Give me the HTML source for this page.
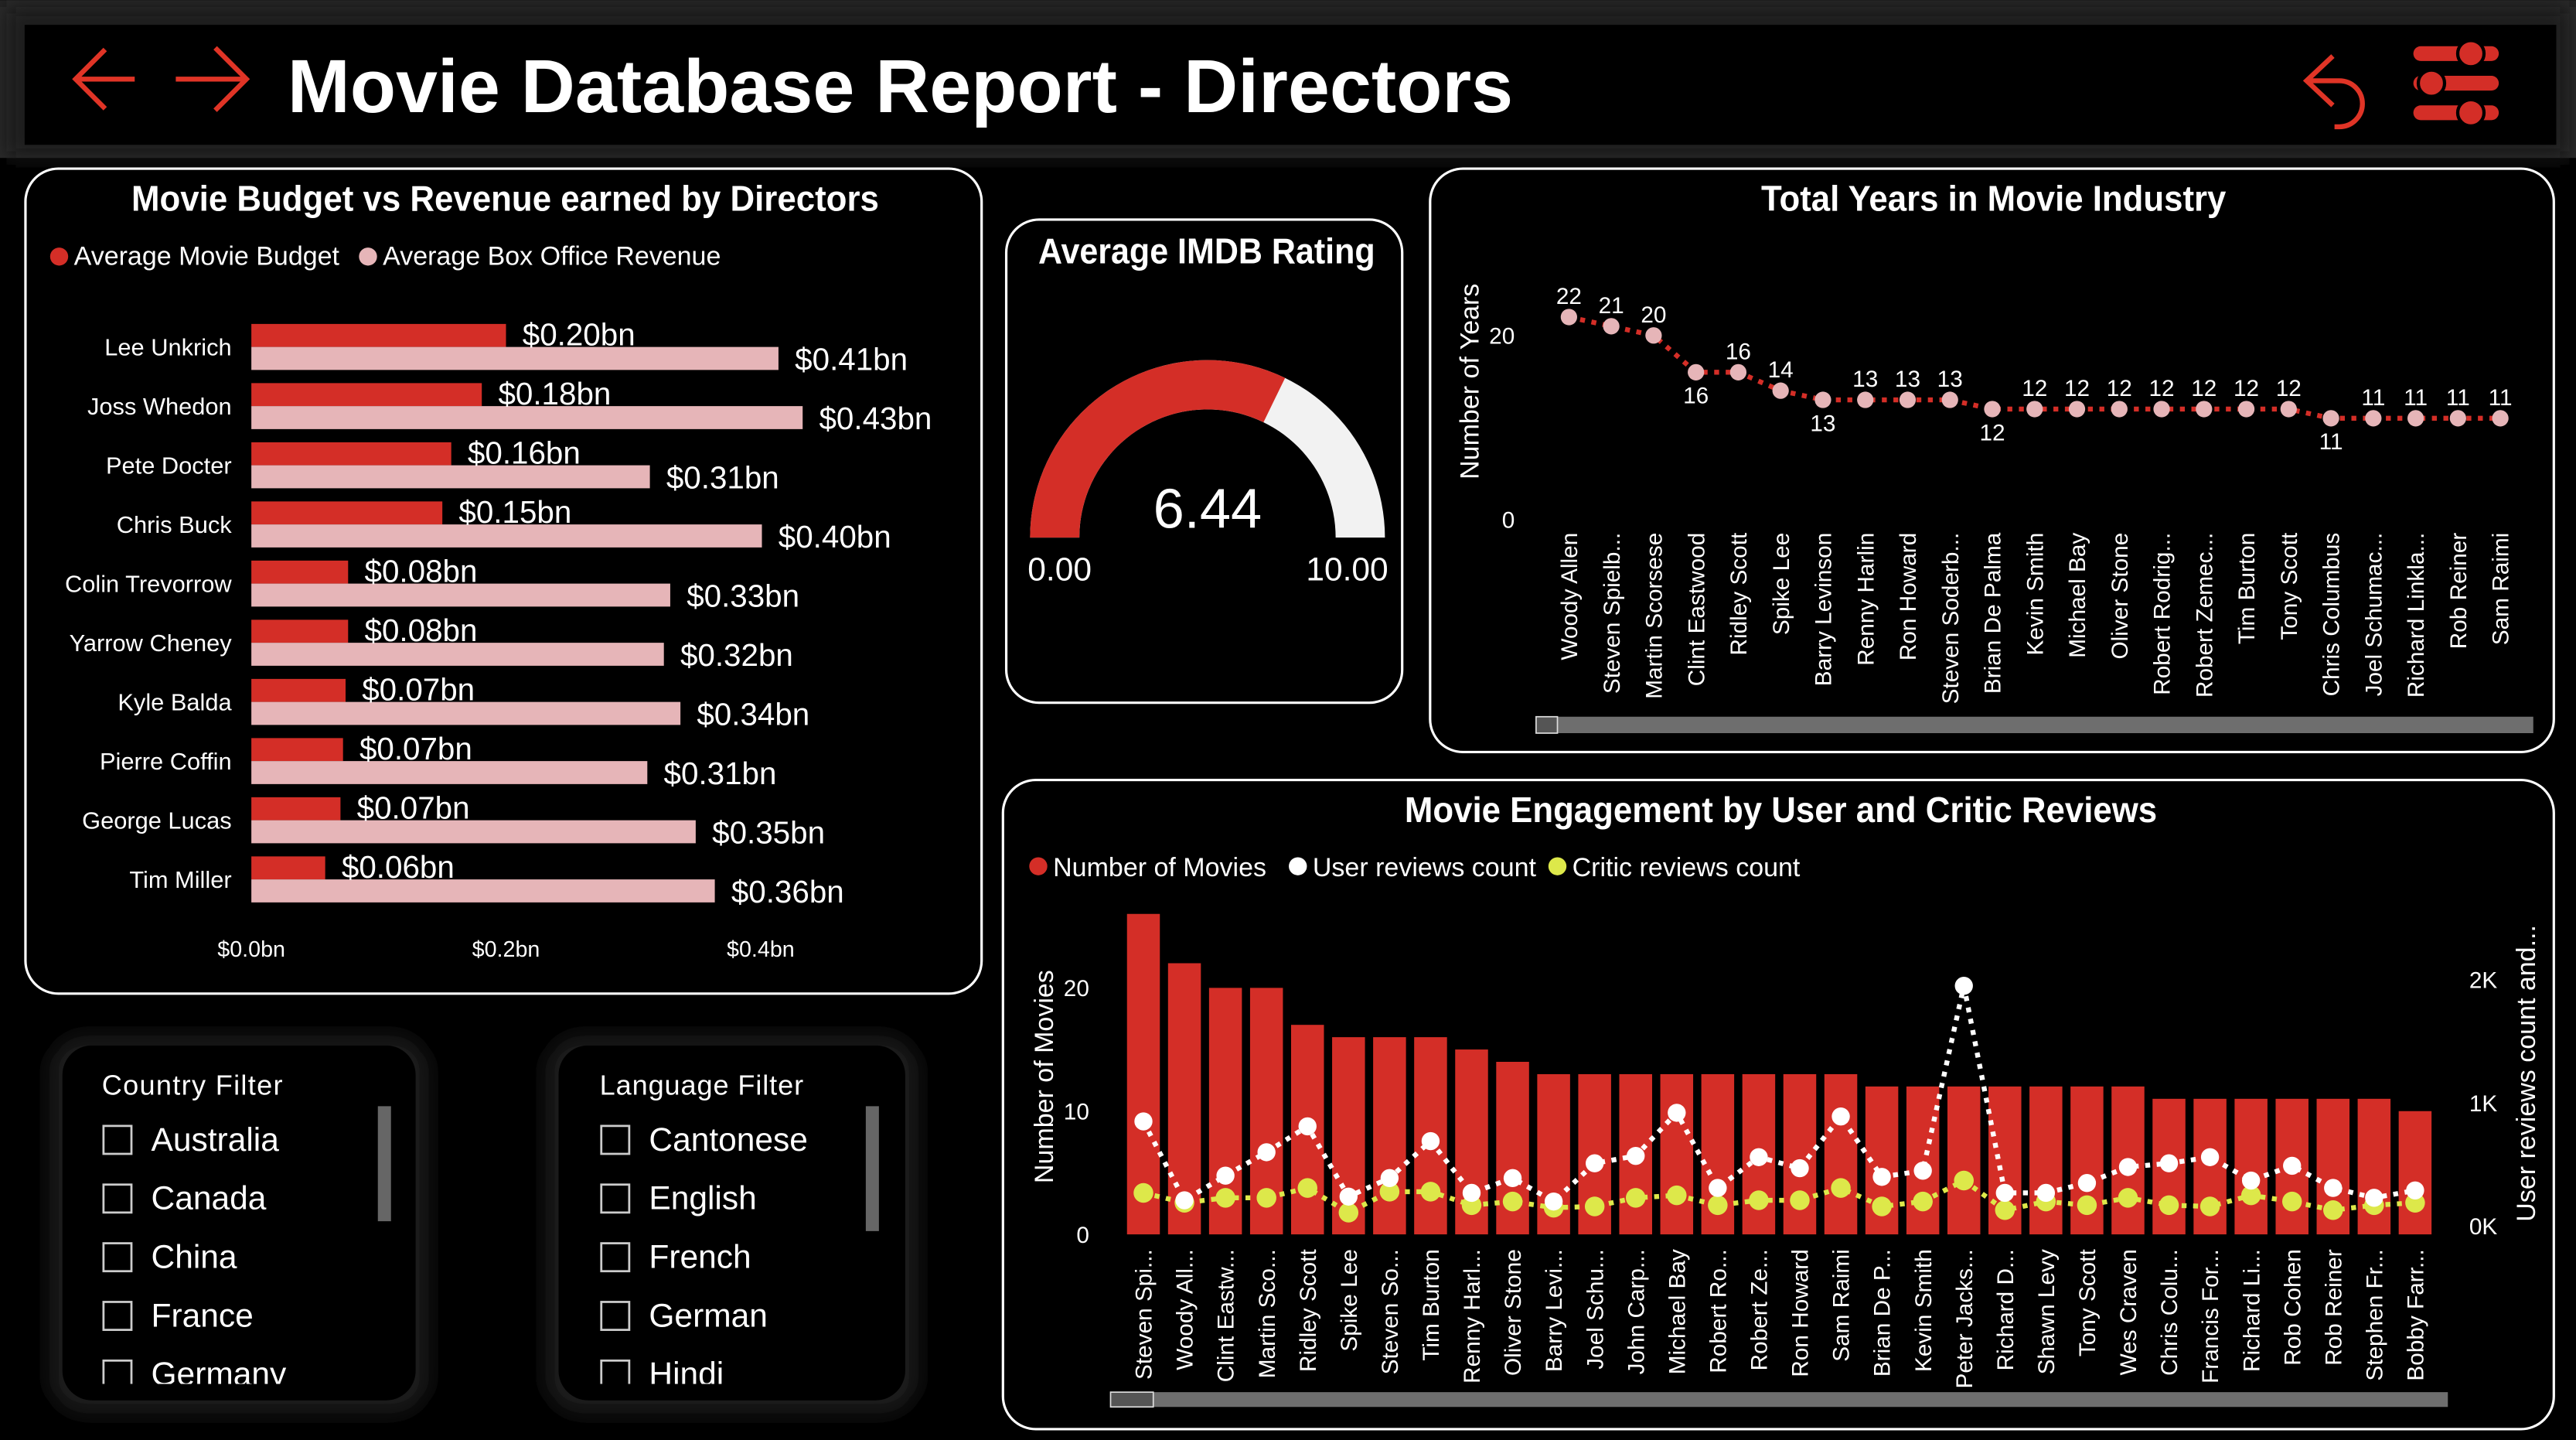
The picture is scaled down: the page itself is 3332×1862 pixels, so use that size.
<!DOCTYPE html>
<html><head><meta charset="utf-8"><style>
html,body{margin:0;padding:0;background:#000;}
svg{display:block;}
text{font-family:"Liberation Sans Narrow","Liberation Sans",sans-serif;}
</style></head><body>
<svg id="root" width="3332" height="1862" viewBox="0 0 1568 876" xmlns="http://www.w3.org/2000/svg">
<defs>
<filter id="glow" x="-10%" y="-50%" width="120%" height="200%"><feGaussianBlur stdDeviation="6"/></filter>
<clipPath id="cfClip"><rect x="40" y="640" width="210" height="202"/></clipPath>
<clipPath id="lfClip"><rect x="342" y="640" width="206" height="202"/></clipPath>
</defs>
<rect x="0" y="0" width="1568" height="876" fill="#000"/>
<rect x="0" y="0" width="1568" height="96" fill="#262626"/>
<rect x="4" y="4" width="1560" height="92" fill="#1a1a1a" filter="url(#glow)"/>
<g>
<rect x="15" y="15" width="1541" height="73" fill="#000"/>
<g stroke="#e03426" stroke-width="3" fill="none"><path d="M82 48 H46 M64 30 L46 48 L64 66"/></g>
<g stroke="#e03426" stroke-width="3" fill="none"><path d="M107 48 H150 M131 29 L150 48 L131 67"/></g>
<text x="175" y="68" font-size="46" font-weight="bold" fill="#fff" textLength="746" lengthAdjust="spacingAndGlyphs" style="font-family:'Liberation Sans',sans-serif">Movie Database Report - Directors</text>
<g stroke="#e03426" stroke-width="3" fill="none"><path d="M1420 34 L1404 49 L1420 64 M1404 49 H1424 A14 14 0 0 1 1424 77 H1421"/></g>
<g fill="#d42e27">
<rect x="1469" y="28" width="52" height="9" rx="4.5"/><circle cx="1504" cy="32.5" r="8" stroke="#000" stroke-width="2"/>
<rect x="1469" y="46" width="52" height="9" rx="4.5"/><circle cx="1480" cy="50.5" r="8" stroke="#000" stroke-width="2"/>
<rect x="1469" y="64" width="52" height="9" rx="4.5"/><circle cx="1504" cy="68.5" r="8" stroke="#000" stroke-width="2"/>
</g>
</g>

<g>
<rect x="15.5" y="102.5" width="582" height="502" rx="20" fill="#000" stroke="#fff" stroke-width="1.5"/>
<text x="80" y="128" font-size="22" font-weight="bold" fill="#fff" textLength="455" lengthAdjust="spacingAndGlyphs">Movie Budget vs Revenue earned by Directors</text>
<g>
<circle cx="36" cy="156" r="5.5" fill="#d42e27"/><text x="45" y="161" font-size="16" fill="#fff">Average Movie Budget</text>
<circle cx="224" cy="156" r="5.5" fill="#e6b5b8"/><text x="233" y="161" font-size="16" fill="#fff">Average Box Office Revenue</text>
</g>
<g id="budgetChart"></g>
</g>

<g>
<rect x="612.5" y="133.5" width="241" height="294" rx="20" fill="#000" stroke="#fff" stroke-width="1.5"/>
<text x="632" y="160" font-size="22" font-weight="bold" fill="#fff" textLength="205" lengthAdjust="spacingAndGlyphs">Average IMDB Rating</text>
<g id="gauge"></g>
</g>

<g>
<rect x="870.5" y="102.5" width="684" height="355" rx="20" fill="#000" stroke="#fff" stroke-width="1.5"/>
<text x="1072" y="128" font-size="22" font-weight="bold" fill="#fff" textLength="283" lengthAdjust="spacingAndGlyphs">Total Years in Movie Industry</text>
<g id="yearsChart"></g>
<rect x="935" y="436" width="607" height="10" fill="#6e6e6e"/>
<rect x="935" y="436" width="13" height="10" fill="#555" stroke="#ddd" stroke-width="0.8"/>
</g>

<g>
<rect x="610.5" y="474.5" width="944" height="395" rx="20" fill="#000" stroke="#fff" stroke-width="1.5"/>
<text x="855" y="500" font-size="22" font-weight="bold" fill="#fff" textLength="458" lengthAdjust="spacingAndGlyphs">Movie Engagement by User and Critic Reviews</text>
<g>
<circle cx="632" cy="527" r="5.5" fill="#d42e27"/><text x="641" y="533" font-size="16" fill="#fff">Number of Movies</text>
<circle cx="790" cy="527" r="5.5" fill="#fff"/><text x="799" y="533" font-size="16" fill="#fff">User reviews count</text>
<circle cx="948" cy="527" r="5.5" fill="#dde84a"/><text x="957" y="533" font-size="16" fill="#fff">Critic reviews count</text>
</g>
<g id="engChart"></g>
<rect x="676" y="847" width="814" height="9" fill="#6e6e6e"/>
<rect x="676" y="847" width="26" height="9" fill="#555" stroke="#ddd" stroke-width="0.8"/>
</g>

<g>
<rect x="30" y="630" width="231" height="230" rx="22" fill="#1c1c1c" filter="url(#glow)"/>
<rect x="38" y="636" width="215" height="216" rx="18" fill="#000"/>
<text x="62" y="666" font-size="17" fill="#fff" style="font-family:'Liberation Sans',sans-serif" textLength="110">Country Filter</text>
<rect x="230" y="673" width="8" height="70" fill="#666"/>
<g clip-path="url(#cfClip)" id="countryList"></g>
</g>
<g>
<rect x="332" y="630" width="227" height="230" rx="22" fill="#1c1c1c" filter="url(#glow)"/>
<rect x="340" y="636" width="211" height="216" rx="18" fill="#000"/>
<text x="365" y="666" font-size="17" fill="#fff" style="font-family:'Liberation Sans',sans-serif" textLength="124">Language Filter</text>
<rect x="527" y="673" width="8" height="76" fill="#666"/>
<g clip-path="url(#lfClip)" id="languageList"></g>
</g>
</svg>
<script>
const budgetDirectors = ["Lee Unkrich","Joss Whedon","Pete Docter","Chris Buck","Colin Trevorrow","Yarrow Cheney","Kyle Balda","Pierre Coffin","George Lucas","Tim Miller"];
const budgetValues = [0.20,0.181,0.157,0.150,0.076,0.076,0.074,0.072,0.070,0.058];
const revenueValues = [0.414,0.433,0.313,0.401,0.329,0.324,0.337,0.311,0.349,0.364];
const budgetTicks = [0,0.2,0.4];
const budgetTickLabels = ["$0.0bn","$0.2bn","$0.4bn"];
const imdbRating = 6.44;
const imdbMin = 0, imdbMax = 10;
const yearDirectors = ["Woody Allen","Steven Spielb...","Martin Scorsese","Clint Eastwood","Ridley Scott","Spike Lee","Barry Levinson","Renny Harlin","Ron Howard","Steven Soderb...","Brian De Palma","Kevin Smith","Michael Bay","Oliver Stone","Robert Rodrig...","Robert Zemec...","Tim Burton","Tony Scott","Chris Columbus","Joel Schumac...","Richard Linkla...","Rob Reiner","Sam Raimi"];
const yearValues = [22,21,20,16,16,14,13,13,13,13,12,12,12,12,12,12,12,12,11,11,11,11,11];
const yearTicks = [0,20];
const engDirectors = ["Steven Spi...","Woody All...","Clint Eastw...","Martin Sco...","Ridley Scott","Spike Lee","Steven So...","Tim Burton","Renny Harl...","Oliver Stone","Barry Levi...","Joel Schu...","John Carp...","Michael Bay","Robert Ro...","Robert Ze...","Ron Howard","Sam Raimi","Brian De P...","Kevin Smith","Peter Jacks...","Richard D...","Shawn Levy","Tony Scott","Wes Craven","Chris Colu...","Francis For...","Richard Li...","Rob Cohen","Rob Reiner","Stephen Fr...","Bobby Farr..."];
const movieCounts = [26,22,20,20,17,16,16,16,15,14,13,13,13,13,13,13,13,13,12,12,12,12,12,12,12,11,11,11,11,11,11,10];
const userReviewsK = [0.85,0.21,0.41,0.60,0.81,0.24,0.39,0.69,0.27,0.39,0.20,0.51,0.57,0.92,0.31,0.56,0.47,0.89,0.40,0.45,1.95,0.27,0.27,0.35,0.48,0.51,0.56,0.37,0.49,0.31,0.23,0.29];
const criticReviewsK = [0.27,0.19,0.23,0.23,0.31,0.11,0.28,0.28,0.17,0.20,0.15,0.16,0.23,0.25,0.17,0.21,0.21,0.31,0.16,0.20,0.37,0.13,0.20,0.17,0.23,0.17,0.16,0.25,0.20,0.13,0.17,0.19];
const leftTicks = [0,10,20];
const rightTicks = [0,1,2];
const rightTickLabels = ["0K","1K","2K"];
const countries = ["Australia","Canada","China","France","Germany"];
const languages = ["Cantonese","English","French","German","Hindi"];

const NS = "http://www.w3.org/2000/svg";
function mk(parent, tag, attrs, txt){
  const e = document.createElementNS(NS, tag);
  for (const k in attrs) e.setAttribute(k, attrs[k]);
  if (txt !== undefined) e.textContent = txt;
  parent.appendChild(e); return e;
}
const RED="#d42e27", PINK="#e6b5b8", LIME="#dde84a";

(function(){
  const g = document.getElementById('budgetChart');
  const x = v => 153 + v*775;
  const rowY = i => 211 + i*36;
  budgetDirectors.forEach((d,i)=>{
    const y = rowY(i);
    const lab = mk(g,'text',{x:141,y:y+5,'font-size':14.5,fill:'#fff','text-anchor':'end'},d);
    
    
    const rb = mk(g,'rect',{x:x(0),y:y-14,width:x(budgetValues[i])-x(0),height:14,fill:RED});
    
    
    const pb = mk(g,'rect',{x:x(0),y:y,width:x(revenueValues[i])-x(0),height:14,fill:PINK});
    
    
    const t1 = mk(g,'text',{x:x(budgetValues[i])+10,y:y-1,'font-size':19,fill:'#fff'},'$'+budgetValues[i].toFixed(2)+'bn');
    
    
    const t2 = mk(g,'text',{x:x(revenueValues[i])+10,y:y+14,'font-size':19,fill:'#fff'},'$'+revenueValues[i].toFixed(2)+'bn');
    
    
  });
  budgetTicks.forEach((t,i)=>{
    const tl = mk(g,'text',{x:x(t),y:582,'font-size':13.5,fill:'#fff','text-anchor':'middle'},budgetTickLabels[i]);
    
    
  });
})();

(function(){
  const g = document.getElementById('gauge');
  const cx=735, cy=327, R=108, r=78;
  const ang = v => Math.PI*(1-(v-imdbMin)/(imdbMax-imdbMin));
  function arc(a0,a1){
    const p=(rad,a)=>[cx+rad*Math.cos(a), cy-rad*Math.sin(a)];
    const [x0,y0]=p(R,a0),[x1,y1]=p(R,a1),[x2,y2]=p(r,a1),[x3,y3]=p(r,a0);
    return `M${x0} ${y0} A${R} ${R} 0 0 1 ${x1} ${y1} L${x2} ${y2} A${r} ${r} 0 0 0 ${x3} ${y3} Z`;
  }
  const bg = mk(g,'path',{d:arc(ang(imdbMin),ang(imdbMax)),fill:'#f2f2f2'});
  
  
  const fg = mk(g,'path',{d:arc(ang(imdbMin),ang(imdbRating)),fill:RED});
  
  
  const v = mk(g,'text',{x:cx,y:321,'font-size':34,fill:'#fff','text-anchor':'middle'},imdbRating.toFixed(2));
  
  
  const mn = mk(g,'text',{x:645,y:353,'font-size':20,fill:'#fff','text-anchor':'middle'},imdbMin.toFixed(2));
  
  
  const mx = mk(g,'text',{x:820,y:353,'font-size':20,fill:'#fff','text-anchor':'middle'},imdbMax.toFixed(2));
  
  
})();

(function(){
  const g = document.getElementById('yearsChart');
  const x = i => 955 + i*25.77;
  const y = v => 316 - v*5.6;
  const at = mk(g,'text',{transform:'translate(900,232) rotate(-90)','font-size':16,fill:'#fff','text-anchor':'middle',style:"font-family:'Liberation Sans',sans-serif"},'Number of Years');
  
  
  yearTicks.forEach(t=>{
    const tl = mk(g,'text',{x:922,y:y(t)+5,'font-size':14,fill:'#fff','text-anchor':'end'},t);
    
    
  });
  const pts = yearValues.map((v,i)=>x(i)+','+y(v)).join(' ');
  const ln = mk(g,'polyline',{points:pts,fill:'none',stroke:RED,'stroke-width':3,'stroke-dasharray':'3 4'});
  
  
  yearValues.forEach((v,i)=>{
    const c = mk(g,'circle',{cx:x(i),cy:y(v),r:5,fill:PINK});
    
    
    const prev = i>0?yearValues[i-1]:null, next = i<yearValues.length-1?yearValues[i+1]:null;
    const below = prev!==null && prev!==v && next===v;
    const l = mk(g,'text',{x:x(i),y:below?y(v)+19:y(v)-8,'font-size':14,fill:'#fff','text-anchor':'middle'},v);
    
    
    const xl = mk(g,'text',{transform:`translate(${x(i)+5},324) rotate(-90)`,'font-size':14,fill:'#fff','text-anchor':'end',style:"font-family:'Liberation Sans',sans-serif"},yearDirectors[i]);
    
    
  });
})();

(function(){
  const g = document.getElementById('engChart');
  const x = i => 696 + i*24.97;
  const yl = v => 751 - v*7.5;
  const yr = v => 746 - v*75;
  const t1 = mk(g,'text',{transform:'translate(641,655) rotate(-90)','font-size':16,fill:'#fff','text-anchor':'middle',style:"font-family:'Liberation Sans',sans-serif"},'Number of Movies');
  
  
  const t2 = mk(g,'text',{transform:'translate(1543,653) rotate(-90)','font-size':16,fill:'#fff','text-anchor':'middle',style:"font-family:'Liberation Sans',sans-serif"},'User reviews count and...');
  
  
  leftTicks.forEach(t=>{
    const tl = mk(g,'text',{x:663,y:yl(t)+5,'font-size':14,fill:'#fff','text-anchor':'end'},t);
    
    
  });
  rightTicks.forEach((t,i)=>{
    const tl = mk(g,'text',{x:1503,y:yr(t)+5,'font-size':14,fill:'#fff'},rightTickLabels[i]);
    
    
  });
  movieCounts.forEach((v,i)=>{
    const b = mk(g,'rect',{x:x(i)-10,y:yl(v),width:20,height:yl(0)-yl(v),fill:RED});
    
    
    const xl = mk(g,'text',{transform:`translate(${x(i)+5},760) rotate(-90)`,'font-size':14,fill:'#fff','text-anchor':'end',style:"font-family:'Liberation Sans',sans-serif"},engDirectors[i]);
    
    
  });
  const cl = mk(g,'polyline',{points:criticReviewsK.map((v,i)=>x(i)+','+yr(v)).join(' '),fill:'none',stroke:LIME,'stroke-width':3,'stroke-dasharray':'3 4'});
  
  
  const ul = mk(g,'polyline',{points:userReviewsK.map((v,i)=>x(i)+','+yr(v)).join(' '),fill:'none',stroke:'#fff','stroke-width':3,'stroke-dasharray':'3 4'});
  
  
  criticReviewsK.forEach((v,i)=>{
    const c = mk(g,'circle',{cx:x(i),cy:yr(v),r:6,fill:LIME});
    
    
  });
  userReviewsK.forEach((v,i)=>{
    const c = mk(g,'circle',{cx:x(i),cy:yr(v),r:5.5,fill:'#fff'});
    
    
  });
})();

function buildList(id, items, x0){
  const g = document.getElementById(id);
  items.forEach((it,i)=>{
    const y = 693 + i*35.7;
    const cb = mk(g,'rect',{x:x0,y:y-8,width:17,height:17,fill:'none',stroke:'#ccc','stroke-width':1.3});
    
    
    const t = mk(g,'text',{x:x0+29,y:y+7,'font-size':20,fill:'#fff',style:"font-family:'Liberation Sans',sans-serif"},it);
    
    
  });
}
buildList('countryList', countries, 63);
buildList('languageList', languages, 366);
</script>
</body></html>
